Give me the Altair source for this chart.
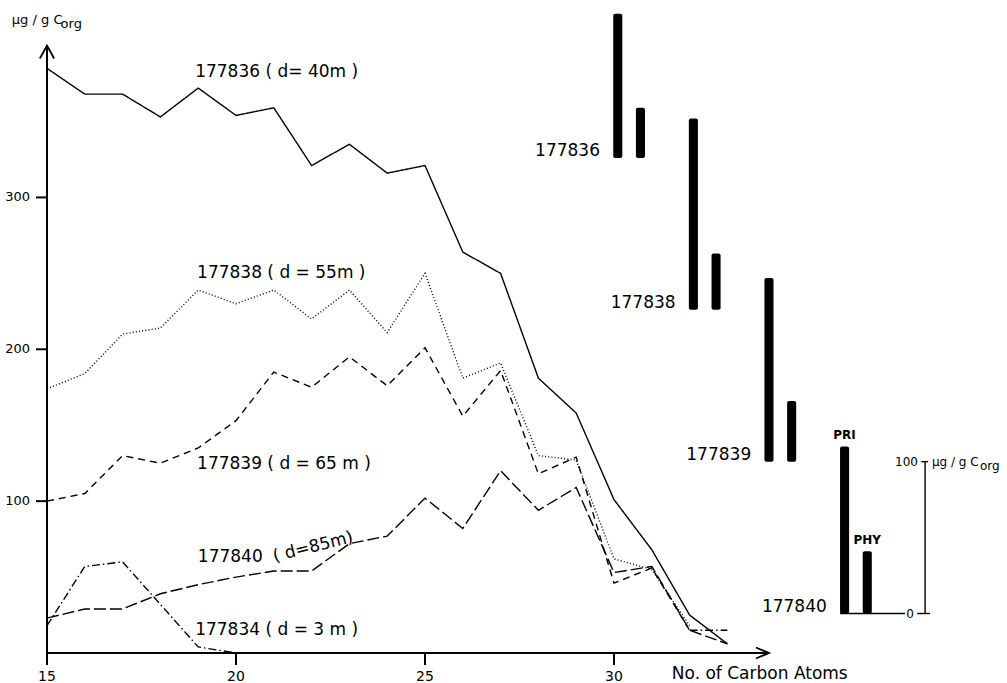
import altair as alt
import pandas as pd

# ---------------- data ----------------
carbon = list(range(15, 34))  # C15 ... C33
c177836 = [385, 368, 368, 353, 372, 354, 359, 321, 335, 316, 321, 264, 250, 181, 158, 101, 68, 25, 6]
c177838 = [174, 184, 210, 214, 239, 230, 239, 220, 239, 211, 250, 181, 191, 130, 127, 62, 55, 18, None]
c177839 = [100, 105, 130, 125, 135, 153, 185, 175, 195, 176, 201, 156, 186, 118, 129, 46, 56, 15, None]
c177840 = [23, 29, 29, 39, 45, 50, 54, 54, 72, 77, 102, 82, 120, 94, 109, 53, 57, 15, 6]
c177834 = [18, 57, 60, 32, 4, 0, None, None, None, None, None, None, None, None, None, None, None, 15, 15]

series_names = ["177836", "177838", "177839", "177840", "177834"]
series_vals = [c177836, c177838, c177839, c177840, c177834]
series_labels = ["177836 ( d= 40m )", "177838 ( d = 55m )", "177839 ( d = 65 m )", "177840", "177834 ( d = 3 m )"]
label_x = [18.92, 18.97, 18.97, 18.99, 18.92]
label_y = [382.5, 250.2, 124.4, 63.2, 15.1]

bar_samples = ["177836", "177838", "177839", "177840"]
pri = [95, 126, 121, 110]
phy = [33, 37, 40, 41]

x_ticks = [15, 20, 25, 30]
y_ticks = [100, 200, 300]

# ---------------- layout / style ----------------
FONT = "DejaVu Sans"
W, H = 1007, 683
PX_X = 37.8                 # pixels per carbon unit
PX_Y = 653 / 430.0          # pixels per µg unit
XMIN = 15 - 47 / PX_X
XMAX = XMIN + W / PX_X
YMAX = 430
YMIN = YMAX - H / PX_Y
xs = alt.Scale(domain=[XMIN, XMAX], nice=False, zero=False)
ys = alt.Scale(domain=[YMIN, YMAX], nice=False, zero=False)
dashes = [[1, 0], [1, 2.2], [7, 5], [12, 4], [8, 3, 1.5, 3]]

GX0, GDX = 30.1, 2.0      # PRI position of first group, step between groups
GB0, GDB = 326, 100       # baseline of first group, step
PHY_OFF = 0.6
HALF_W = 0.12

X = lambda f: alt.X(f, scale=xs, axis=None)
Y = lambda f: alt.Y(f, scale=ys, axis=None)


def txt(x, y, t, align="left", size=13, **kw):
    return alt.Chart(pd.DataFrame({"x": [x], "y": [y], "t": [t]})).mark_text(
        align=align, baseline="middle", font=FONT, fontSize=size, color="black", **kw
    ).encode(x=X("x:Q"), y=Y("y:Q"), text="t:N")


def vrule(x, y1, y2, width):
    df = pd.DataFrame({"x": [x], "a": [y1], "b": [y2]})
    return alt.Chart(df).mark_rule(color="black", strokeWidth=width).encode(
        x=X("x:Q"), y=Y("a:Q"), y2="b:Q")


def hrule(x1, x2, y, width):
    df = pd.DataFrame({"a": [x1], "b": [x2], "y": [y]})
    return alt.Chart(df).mark_rule(color="black", strokeWidth=width).encode(
        x=X("a:Q"), x2="b:Q", y=Y("y:Q"))


def glyph(xv, yv, shape, length, width=2):
    df = pd.DataFrame({"x": xv, "y": yv})
    return alt.Chart(df).mark_point(shape=shape, size=(2 * length) ** 2, filled=False, color="black",
                                    strokeWidth=width, opacity=1).encode(x=X("x:Q"), y=Y("y:Q"))


layers = []

# axis lines
layers.append(vrule(15, 0, 400, 2))
layers.append(hrule(15, 34.1, 0, 2))

# tick marks as thin filled rectangles
hw_x = 1.0 / PX_X      # 1 px in carbon units
hw_y = 1.0 / PX_Y      # 1 px in µg units
xt = pd.DataFrame({"a": [v - hw_x for v in x_ticks], "b": [v + hw_x for v in x_ticks],
                   "c": [0.0] * len(x_ticks), "d": [-12 * hw_y] * len(x_ticks)})
layers.append(alt.Chart(xt).mark_rect(color="black").encode(x=X("a:Q"), x2="b:Q", y=Y("c:Q"), y2="d:Q"))
yt = pd.DataFrame({"a": [15 - 11 * hw_x] * len(y_ticks), "b": [15.0] * len(y_ticks),
                   "c": [v - hw_y for v in y_ticks], "d": [v + hw_y for v in y_ticks]})
layers.append(alt.Chart(yt).mark_rect(color="black").encode(x=X("a:Q"), x2="b:Q", y=Y("c:Q"), y2="d:Q"))

# tick labels
xl = pd.DataFrame({"x": x_ticks, "y": [-24 / PX_Y] * len(x_ticks), "t": [str(v) for v in x_ticks]})
layers.append(alt.Chart(xl).mark_text(align="center", baseline="middle", font=FONT, fontSize=14, color="black").encode(
    x=X("x:Q"), y=Y("y:Q"), text="t:N"))
yl = pd.DataFrame({"x": [15 - 17 / PX_X] * len(y_ticks), "y": y_ticks, "t": [str(v) for v in y_ticks]})
layers.append(alt.Chart(yl).mark_text(align="right", baseline="middle", font=FONT, fontSize=13, color="black").encode(
    x=X("x:Q"), y=Y("y:Q"), text="t:N"))

# arrows
layers.append(glyph([34.1], [0], "M-1,-0.42L0,0L-1,0.42", 13, 1.8))
layers.append(glyph([15], [400], "M-0.55,1L0,0L0.55,1", 13, 1.8))

# series lines
for name, vals, dash in zip(series_names, series_vals, dashes):
    rows, seg, prev = [], 0, True
    for c, v in zip(carbon, vals):
        if v is None:
            prev = False
            continue
        if not prev:
            seg += 1
        prev = True
        rows.append({"c": c, "v": v, "seg": seg})
    df = pd.DataFrame(rows)
    layers.append(alt.Chart(df).mark_line(color="black", strokeWidth=1.4, strokeDash=dash).encode(
        x=X("c:Q"), y=Y("v:Q"), detail="seg:N", order="c:Q"))

# series labels
lab_df = pd.DataFrame({"x": label_x, "y": label_y, "t": series_labels})
layers.append(alt.Chart(lab_df).mark_text(align="left", baseline="middle", font=FONT, fontSize=17, color="black").encode(
    x=X("x:Q"), y=Y("y:Q"), text="t:N"))
layers.append(txt(22.04, 69.8, "( d=85m)", align="center", size=17, angle=346))

# y unit label
layers.append(txt(14.07, 416.7, "µg / g C", size=13))
layers.append(txt(15.36, 416.7, "org", size=13, dy=4))

# x title
layers.append(txt(31.53, -13.8, "No. of Carbon Atoms", size=17))

# PRI / PHY bars
brows = []
for j, (s, p, h) in enumerate(zip(bar_samples, pri, phy)):
    px = GX0 + GDX * j
    base = GB0 - GDB * j
    brows.append({"s": s, "k": "PRI", "xc": px, "x1": px - HALF_W, "x2": px + HALF_W, "b": base, "t": base + p})
    brows.append({"s": s, "k": "PHY", "xc": px + PHY_OFF, "x1": px + PHY_OFF - HALF_W, "x2": px + PHY_OFF + HALF_W,
                  "b": base, "t": base + h})
bdf = pd.DataFrame(brows)
layers.append(alt.Chart(bdf).mark_rect(color="black", cornerRadius=2).encode(
    x=X("x1:Q"), x2="x2:Q", y=Y("b:Q"), y2="t:Q"))

# sample labels beside the bars
sdf = bdf[bdf.k == "PRI"].copy()
sdf["lx"] = sdf["xc"] - 0.47
sdf["ly"] = sdf["b"] + 4.5
layers.append(alt.Chart(sdf).mark_text(align="right", baseline="middle", font=FONT, fontSize=17, color="black").encode(
    x=X("lx:Q"), y=Y("ly:Q"), text="s:N"))

# PRI / PHY names on last group
last = bdf[bdf.s == bar_samples[-1]]
layers.append(alt.Chart(last).mark_text(align="center", baseline="bottom", font=FONT, fontSize=12, fontWeight="bold",
                                         dy=-4, color="black").encode(x=X("xc:Q"), y=Y("t:Q"), text="k:N"))

# scale bar for the bars
lp = GX0 + GDX * (len(bar_samples) - 1)
lb = GB0 - GDB * (len(bar_samples) - 1)
sx = lp + 2.13
layers.append(vrule(sx, lb, lb + 100, 1.4))
layers.append(hrule(sx - 0.10, sx + 0.08, lb + 100, 1.4))
layers.append(hrule(sx - 0.21, sx + 0.13, lb, 1.4))
layers.append(hrule(lp - HALF_W, sx - 0.53, lb, 1.4))
layers.append(txt(sx - 0.19, lb + 100, "100", align="right", size=12))
layers.append(txt(sx - 0.4, lb, "0", align="center", size=12))
layers.append(txt(sx + 0.18, lb + 100, "µg / g C", size=12))
layers.append(txt(sx + 1.45, lb + 100, "org", size=12, dy=4))

chart = alt.layer(*layers).properties(
    width=W, height=H,
    autosize=alt.AutoSizeParams(type="none"),
    padding=0,
    background="white",
).configure_view(stroke=None)

chart.save("out.html", embed_options={"renderer": "svg", "actions": False})
